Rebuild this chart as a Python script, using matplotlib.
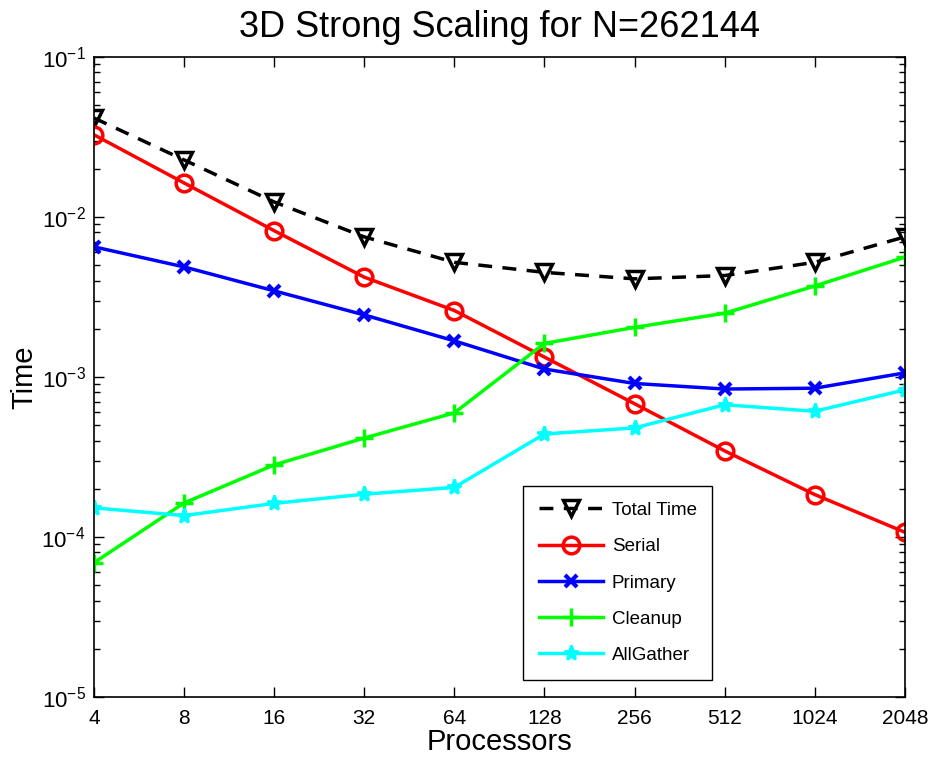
import matplotlib
matplotlib.use("Agg")
import matplotlib.pyplot as plt
from matplotlib.ticker import LogLocator, NullFormatter, FixedLocator

plt.rcParams['font.family'] = ['Liberation Sans', 'DejaVu Sans']
plt.rcParams['mathtext.fontset'] = 'custom'
plt.rcParams['mathtext.rm'] = 'Liberation Sans'

processors = [4, 8, 16, 32, 64, 128, 256, 512, 1024, 2048]
total_time = [0.0415, 0.0227, 0.0124, 0.0075, 0.0052, 0.0045, 0.0041, 0.0043, 0.0052, 0.0075]
serial = [0.0326, 0.0163, 0.0082, 0.0042, 0.0026, 0.00133, 0.00068, 0.000345, 0.000184, 0.000107]
primary = [0.0065, 0.00487, 0.00345, 0.00244, 0.00168, 0.00112, 0.00091, 0.00084, 0.00085, 0.00106]
cleanup = [6.9e-5, 1.63e-4, 2.82e-4, 4.15e-4, 5.96e-4, 1.62e-3, 2.04e-3, 2.5e-3, 3.7e-3, 5.6e-3]
allgather = [1.52e-4, 1.36e-4, 1.62e-4, 1.85e-4, 2.04e-4, 4.4e-4, 4.8e-4, 6.7e-4, 6.1e-4, 8.3e-4]

fig = plt.figure(figsize=(9.3, 7.58), dpi=100)
ax = fig.add_axes([0.101, 0.0805, 0.872, 0.8445])

ax.plot(processors, total_time, color='black', linestyle='--', dashes=(4, 3), lw=2.5,
        marker='v', markersize=12, markerfacecolor='none', markeredgewidth=2.5,
        label='Total Time')
ax.plot(processors, serial, color='#ff0000', lw=2.5, marker='o', markersize=12,
        markerfacecolor='none', markeredgewidth=2.5, label='Serial')
ax.plot(processors, primary, color='#0000ff', lw=2.5, marker='x', markersize=9,
        markeredgewidth=3, label='Primary')
ax.plot(processors, cleanup, color='#00ff00', lw=2.5, marker='+', markersize=13,
        markeredgewidth=2.5, label='Cleanup')
ax.plot(processors, allgather, color='#00ffff', lw=2.5, marker='*', markersize=11,
        markeredgewidth=2, label='AllGather')

ax.set_xscale('log', base=2)
ax.set_yscale('log')
ax.set_xlim(4, 2048)
ax.set_ylim(1e-5, 1e-1)
ax.xaxis.set_major_locator(FixedLocator(processors))
ax.set_xticklabels([str(p) for p in processors])
ax.xaxis.set_minor_locator(FixedLocator([]))
ax.yaxis.set_major_locator(LogLocator(base=10, numticks=10))
ax.yaxis.set_minor_locator(LogLocator(base=10, subs=range(2, 10), numticks=20))
ax.yaxis.set_minor_formatter(NullFormatter())

ax.tick_params(which='both', direction='in', top=True, right=True)
ax.tick_params(axis='x', labelsize=15, pad=9)
ax.tick_params(axis='y', labelsize=16, pad=6)
ax.tick_params(which='major', length=7, width=1)
ax.tick_params(which='minor', length=4, width=1)
for s in ax.spines.values():
    s.set_linewidth(1.2)

ax.set_title('3D Strong Scaling for N=262144', fontsize=26, pad=14)
ax.set_xlabel('Processors', fontsize=21, labelpad=0)
ax.set_ylabel('Time', fontsize=21, labelpad=2)

leg = ax.legend(loc='lower left', bbox_to_anchor=(0.529, 0.0266, 0.233, 0.29),
                mode='expand', borderaxespad=0, fontsize=13.5, fancybox=False,
                edgecolor='black', framealpha=1, handlelength=3.4,
                labelspacing=1.02, borderpad=0.85, handletextpad=0.5)
leg.get_frame().set_linewidth(1.0)

fig.savefig('out.png', dpi=100)
